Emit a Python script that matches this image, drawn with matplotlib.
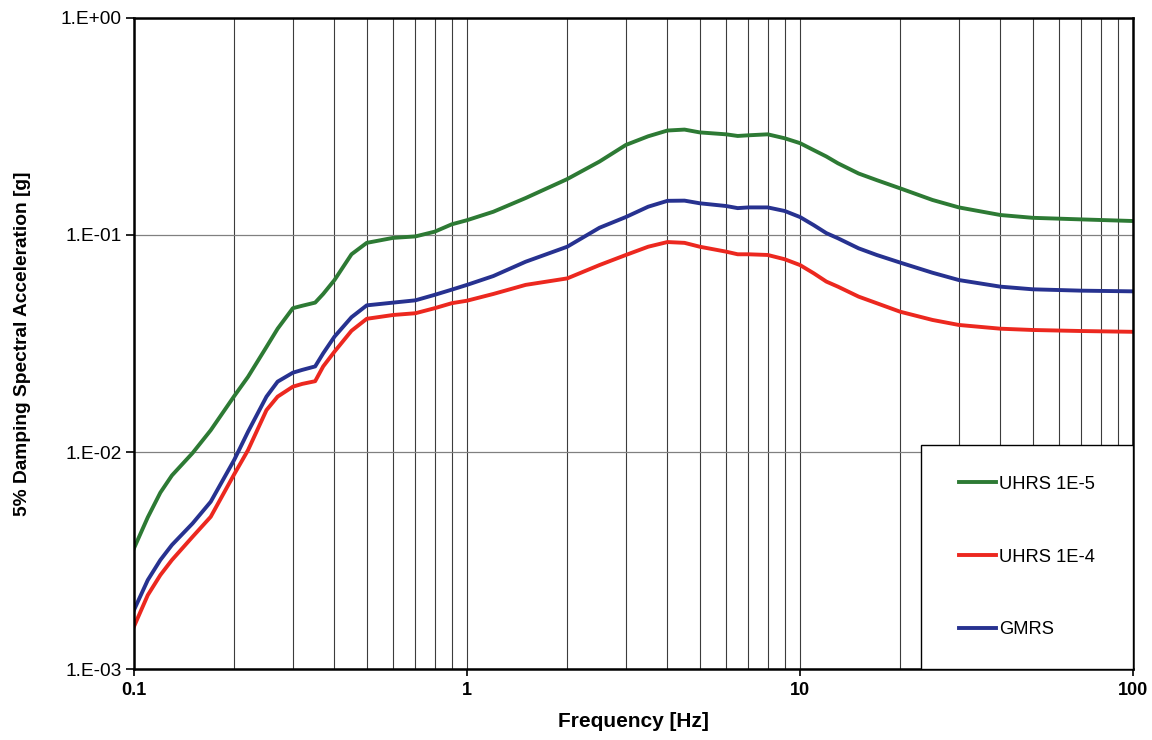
import math
import matplotlib
matplotlib.use("Agg")
import matplotlib.pyplot as plt
from matplotlib.patches import Rectangle
from matplotlib.ticker import FixedLocator, FuncFormatter, NullFormatter

plt.rcParams['font.family'] = ['Liberation Sans', 'DejaVu Sans']

freq = [0.1, 0.11, 0.12, 0.13, 0.15, 0.17, 0.2, 0.22, 0.25, 0.27, 0.3, 0.32,
        0.35, 0.37, 0.4, 0.45, 0.5, 0.6, 0.7, 0.8, 0.9, 1.0, 1.2, 1.5, 2.0,
        2.5, 3.0, 3.5, 4.0, 4.5, 5.0, 6.0, 6.5, 7.0, 8.0, 9.0, 10.0, 11.0,
        12.0, 13.0, 15.0, 17.0, 20.0, 25.0, 30.0, 40.0, 50.0, 70.0, 100.0]

uhrs_1e5 = [0.0036, 0.0050, 0.0065, 0.0078, 0.0099, 0.0126, 0.0181, 0.0222,
            0.0305, 0.037, 0.046, 0.0472, 0.0488, 0.0535, 0.062, 0.0815, 0.092,
            0.097, 0.0985, 0.1036, 0.112, 0.117, 0.128, 0.148, 0.181, 0.218,
            0.26, 0.285, 0.303, 0.306, 0.297, 0.291, 0.286, 0.288, 0.291, 0.279,
            0.265, 0.246, 0.23, 0.214, 0.192, 0.179, 0.164, 0.145, 0.134, 0.1236,
            0.120, 0.118, 0.116]

uhrs_1e4 = [0.00157, 0.00219, 0.00271, 0.00318, 0.00407, 0.00503, 0.0079, 0.0102,
            0.0156, 0.018, 0.020, 0.0206, 0.0212, 0.0248, 0.029, 0.0362, 0.0411,
            0.0428, 0.0436, 0.046, 0.0485, 0.0498, 0.0535, 0.0589, 0.0631, 0.0727,
            0.0809, 0.0883, 0.0928, 0.092, 0.0883, 0.0838, 0.0815, 0.0815, 0.0809,
            0.0773, 0.0727, 0.0666, 0.061, 0.0578, 0.052, 0.0485, 0.0443, 0.0406,
            0.0385, 0.037, 0.0365, 0.0361, 0.0358]

gmrs = [0.00187, 0.00257, 0.00318, 0.00373, 0.00469, 0.0059, 0.0092, 0.0124,
        0.018, 0.0211, 0.0232, 0.0239, 0.0248, 0.0285, 0.034, 0.0418, 0.0474,
        0.0488, 0.050, 0.053, 0.056, 0.0589, 0.0647, 0.0753, 0.0883, 0.108,
        0.121, 0.135, 0.1437, 0.144, 0.140, 0.136, 0.133, 0.134, 0.134, 0.129,
        0.121, 0.111, 0.102, 0.0966, 0.0868, 0.0809, 0.0746, 0.067, 0.062,
        0.0578, 0.0562, 0.0554, 0.055]

fig = plt.figure(figsize=(11.52, 7.40), dpi=100)
ax = fig.add_axes([0.1163, 0.0959, 0.8672, 0.8798])

ax.plot(freq, uhrs_1e5, color='#2d7a34', lw=2.8, label='UHRS 1E-5')
ax.plot(freq, uhrs_1e4, color='#ec281f', lw=2.8, label='UHRS 1E-4')
ax.plot(freq, gmrs, color='#273290', lw=2.8, label='GMRS')

ax.set_xscale('log')
ax.set_yscale('log')
ax.set_xlim(0.1, 100)
ax.set_ylim(1e-3, 1)

ax.xaxis.set_major_locator(FixedLocator([0.1, 1, 10, 100]))
minor_x = [m * d for d in (0.1, 1, 10) for m in range(2, 10)]
ax.xaxis.set_minor_locator(FixedLocator(minor_x))
ax.xaxis.set_major_formatter(FuncFormatter(lambda v, p: f"{v:g}"))
ax.xaxis.set_minor_formatter(NullFormatter())
ax.yaxis.set_major_locator(FixedLocator([1e-3, 1e-2, 1e-1, 1]))
ax.yaxis.set_minor_locator(FixedLocator([]))
ax.yaxis.set_major_formatter(FuncFormatter(
    lambda v, p: "1.E{:+03d}".format(int(round(math.log10(v))))))

ax.grid(True, which='major', axis='y', color='#808080', lw=0.9)
ax.grid(True, which='both', axis='x', color='#3c3c3c', lw=0.8)

ax.tick_params(axis='y', which='major', direction='out', length=6, width=1.2,
               labelsize=13.8, pad=3)
ax.tick_params(axis='x', which='major', direction='out', length=5, width=1.2,
               labelsize=13, pad=4)
ax.tick_params(axis='x', which='minor', length=0)
for lab in ax.get_xticklabels():
    lab.set_fontweight('bold')
for s in ax.spines.values():
    s.set_linewidth(1.8)
    s.set_color('black')

ax.set_xlabel('Frequency [Hz]', fontsize=15, fontweight='bold', labelpad=10)
ax.set_ylabel('5% Damping Spectral Acceleration [g]', fontsize=13.8,
              fontweight='bold', labelpad=21)

# legend box in the lower right corner of the plot area
box = Rectangle((0.788, 0.0), 0.212, 0.344, transform=ax.transAxes,
                facecolor='white', edgecolor='black', lw=1.0, zorder=3)
ax.add_patch(box)
leg = ax.legend(loc='center', bbox_to_anchor=(0.894, 0.172), fontsize=13.2,
                handlelength=2.0, handletextpad=0.2, labelspacing=3.05,
                frameon=False)
leg.set_zorder(5)

fig.savefig('out.png', dpi=100)
